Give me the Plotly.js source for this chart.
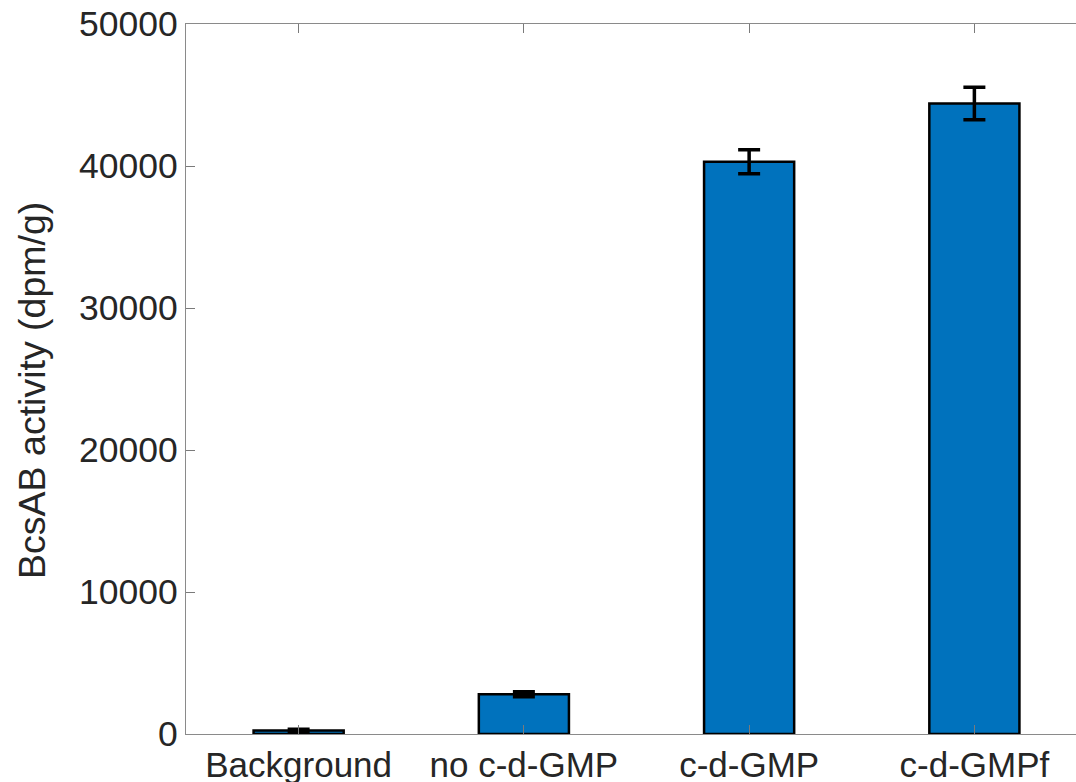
<!DOCTYPE html>
<html>
<head>
<meta charset="utf-8">
<script src="https://cdn.plot.ly/plotly-3.0.1.min.js"></script>
<style>
  html, body { margin: 0; padding: 0; overflow: hidden; background: #fff; }
  #chart { width: 1100px; height: 782px; }
</style>
</head>
<body>
<div id="chart"></div>
<script>
// BcsAB activity per condition, mean with error
const categories = ["Background", "no c-d-GMP", "c-d-GMP", "c-d-GMPf"];
const activity = [250, 2800, 40300, 44400];
const activityErr = [80, 180, 850, 1150];
const yTicks = [0, 10000, 20000, 30000, 40000, 50000];
const yLabel = "BcsAB activity (dpm/g)";

const positions = categories.map((_, i) => i + 1);

const textColor = "#262626";
const fontFamily = "Liberation Sans, Arial, Helvetica, sans-serif";

const trace = {
  type: "bar",
  x: positions,
  y: activity,
  width: 0.4,
  marker: { color: "#0072BD", line: { color: "#000000", width: 2.5 } },
  error_y: { type: "data", array: activityErr, visible: true, color: "#000000", thickness: 3.5, width: 11 },
  hoverinfo: "skip"
};

const axisCommon = {
  ticks: "inside",
  ticklen: 9,
  tickwidth: 1,
  tickcolor: "#7a7a7a",
  showline: true,
  linecolor: "#8a8a8a",
  linewidth: 1.2,
  mirror: "ticks",
  showgrid: false,
  zeroline: false,
  fixedrange: true
};

const layout = {
  width: 1100,
  height: 782,
  margin: { l: 186, r: 13, t: 24, b: 48 },
  paper_bgcolor: "#ffffff",
  plot_bgcolor: "#ffffff",
  showlegend: false,
  bargap: 0,
  font: { family: fontFamily, color: textColor, size: 35 },
  xaxis: Object.assign({}, axisCommon, {
    range: [0.5, 4.5],
    tickmode: "array",
    tickvals: positions,
    ticktext: categories,
    tickfont: { size: 35, color: textColor, family: fontFamily }
  }),
  yaxis: Object.assign({}, axisCommon, {
    range: [0, 50000],
    tickmode: "array",
    tickvals: yTicks,
    ticktext: yTicks.map(String),
    tickfont: { size: 35.5, color: textColor, family: fontFamily }
  }),
  annotations: [{
    text: yLabel,
    xref: "paper", yref: "paper",
    x: -0.171, y: 0.4845,
    xanchor: "center", yanchor: "middle",
    textangle: -90,
    showarrow: false,
    font: { size: 37.5, color: textColor, family: fontFamily }
  }]
};

Plotly.newPlot("chart", [trace], layout, { displayModeBar: false, staticPlot: true });
</script>
</body>
</html>
